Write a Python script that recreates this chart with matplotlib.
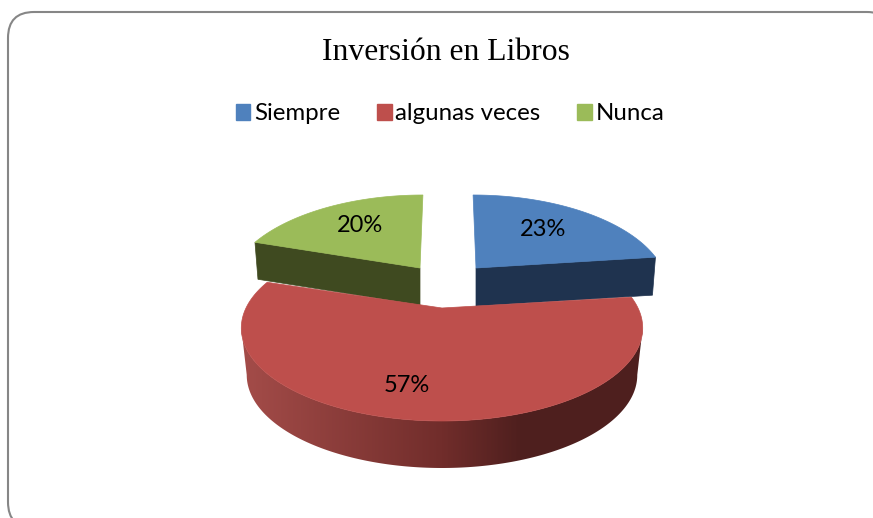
import numpy as np
import matplotlib
matplotlib.use("Agg")
import matplotlib.pyplot as plt
from matplotlib.patches import Polygon, FancyBboxPatch, Patch
from matplotlib.colors import LinearSegmentedColormap

title = "Inversión en Libros"
categories = ["Siempre", "algunas veces", "Nunca"]
values = [23, 57, 20]
top_colors = ["#4f81bd", "#be4f4c", "#9bbb59"]
side_colors = ["#1f334f", None, "#3f4a20"]

# layout (pixels)
CX, CY = 442.0, 308.0
A, B, K = 196.0, 88.7, 0.215
offsets = [(34, -40), (0, 0), (-22, -40)]
scales = [0.95, 1.0, 0.95]
leans = [0.04, 0.0, -0.04]
depths = [38, 47, 37]
label_pos = [(543, 229), (407, 386), (360, 225)]

fig = plt.figure(figsize=(8.73, 5.18), dpi=100)
ax = fig.add_axes([0, 0, 1, 1])
ax.axis("off")

ax.add_patch(FancyBboxPatch((33, 37), 835, 466, boxstyle="round,pad=25,rounding_size=26",
                            fc="white", ec="#868686", lw=1.5, clip_on=True))


def project(t, r=1.0):
    """Angle t (radians, clockwise from the far side) on the disc -> pixel offsets."""
    u, v = r * np.sin(t), r * np.cos(t)
    w = 1 + K * v
    return A * u / w, -B * v / w


fractions = np.array(values, dtype=float) / sum(values)
edges = np.concatenate([[0], np.cumsum(fractions)]) * 2 * np.pi
shade = LinearSegmentedColormap.from_list(
    "side", [(0, "#a44c49"), (0.5, "#712d2b"), (0.7, "#4e1f1e"), (1, "#4f201f")])

for i in [2, 0, 1]:
    t = np.linspace(edges[i], edges[i + 1], 400)
    dx, dy = project(t)
    s, lean = scales[i], leans[i]
    ox, oy = CX + offsets[i][0], CY + offsets[i][1]
    px = ox + s * dx + lean * dy
    py = oy + dy
    d = depths[i]
    if i == 1:
        # curved front wall: a smooth horizontal gradient clipped to the wall outline,
        # running only between the two horizontal extremes of the rim
        a, b = int(np.argmax(px)), int(np.argmin(px))
        low_x = ox + 0.973 * dx[a:b + 1]
        low_y = py[a:b + 1] + d
        wall = Polygon(np.column_stack([np.r_[px[a:b + 1], low_x[::-1]],
                                        np.r_[py[a:b + 1], low_y[::-1]]]),
                       closed=True, fc="none", ec="none", transform=ax.transData)
        ax.add_patch(wall)
        grad = np.linspace(0, 1, 402)[None, :]
        im = ax.imshow(grad, cmap=shade, extent=(241, 643, 480, 270), aspect="auto",
                       interpolation="bilinear", zorder=1)
        im.set_clip_path(wall)
    else:
        # flat cut wall between the centre and the outer point
        end = -1 if i == 0 else 0
        conv = -3 if i == 0 else 3
        ax.add_patch(Polygon([(ox, oy), (px[end], py[end]),
                              (px[end] + conv, py[end] + d), (ox, oy + d)],
                             fc=side_colors[i], ec=side_colors[i], lw=0.5, zorder=1))
    ax.add_patch(Polygon(np.column_stack([np.r_[ox, px], np.r_[oy, py]]),
                         fc=top_colors[i], ec=top_colors[i], lw=0.5, zorder=2))

ax.set_xlim(0, 873)
ax.set_ylim(518, 0)

for v, (x, y) in zip(values, label_pos):
    ax.text(x, y, f"{v}%", ha="center", va="center", fontsize=17,
            family="Lato", color="black", zorder=3)

fig.text(446 / 873, 1 - 53 / 518, title, ha="center", va="center",
         family="Liberation Serif", fontsize=22.8, color="black")

handles = [Patch(fc=c, ec=c, label=n) for c, n in zip(top_colors, categories)]
ax.legend(handles=handles, ncol=3, loc="center", bbox_to_anchor=(450 / 873, 1 - 114 / 518),
          frameon=False, prop={"family": "Lato", "size": 17.3},
          handlelength=0.62, handleheight=0.62, handletextpad=0.14, columnspacing=1.54)

fig.savefig("out.png", dpi=100)
